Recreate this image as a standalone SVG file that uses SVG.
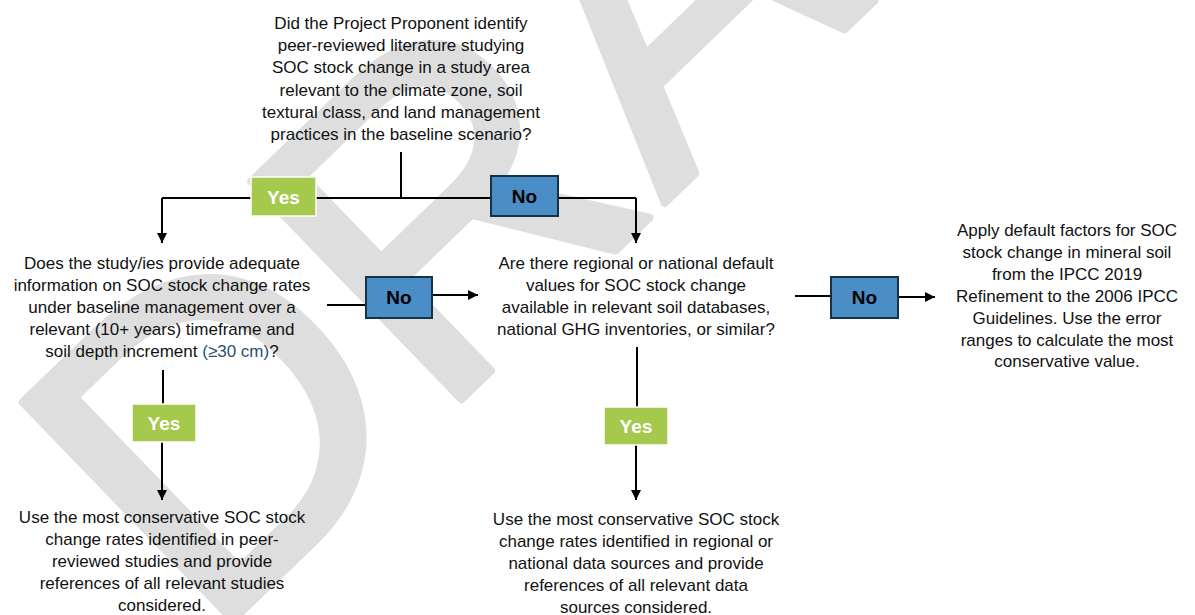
<svg xmlns="http://www.w3.org/2000/svg" width="1195" height="615" viewBox="0 0 1195 615">
<style>
.t{font-family:"Liberation Sans",Arial,sans-serif;font-size:17px;fill:#111;text-anchor:middle}
.wm{font-family:"Liberation Sans",Arial,sans-serif;font-size:440px;fill:#dedede;stroke:#dedede;stroke-width:8;stroke-linejoin:round}
.ln{stroke:#000;stroke-width:2;fill:none}
.yes rect{fill:#a5c94c;stroke:#fff;stroke-width:1.5}
.no rect{fill:#4a8dc7;stroke:#163247;stroke-width:2}
.yes text{font-family:"Liberation Sans",Arial,sans-serif;font-size:19px;font-weight:bold;fill:#fff;text-anchor:middle}
.no text{font-family:"Liberation Sans",Arial,sans-serif;font-size:19px;font-weight:bold;fill:#000;text-anchor:middle}
.blue{fill:#2b4f72}
</style>
<defs>
<marker id="ah" viewBox="0 0 10 10" refX="10" refY="5" markerWidth="10" markerHeight="10" markerUnits="userSpaceOnUse" orient="auto">
<path d="M0,0 L10,5 L0,10 z" fill="#000"/>
</marker>
</defs>
<rect width="1195" height="615" fill="#fff"/>
<text class="wm" transform="translate(207,645) rotate(-44)">DRAFT</text>

<g id="connectors">
<path class="ln" d="M401,152 V198"/>
<path class="ln" d="M162,198 H636"/>
<path class="ln" d="M162,198 V243" marker-end="url(#ah)"/>
<path class="ln" d="M636,198 V243" marker-end="url(#ah)"/>
<path class="ln" d="M327,305 H366"/>
<path class="ln" d="M432,295 H478" marker-end="url(#ah)"/>
<path class="ln" d="M795,296 H831"/>
<path class="ln" d="M898,297 H935" marker-end="url(#ah)"/>
<path class="ln" d="M163,370 V404"/>
<path class="ln" d="M162,442 V500" marker-end="url(#ah)"/>
<path class="ln" d="M637,347 V407"/>
<path class="ln" d="M636,445 V500" marker-end="url(#ah)"/>
</g>

<g id="q1">
<text class="t" x="401" y="29">Did the Project Proponent identify</text>
<text class="t" x="401" y="51">peer-reviewed literature studying</text>
<text class="t" x="401" y="73">SOC stock change in a study area</text>
<text class="t" x="401" y="95.5">relevant to the climate zone, soil</text>
<text class="t" x="401" y="117.5">textural class, and land management</text>
<text class="t" x="401" y="139.5">practices in the baseline scenario?</text>
</g>

<g id="yes1" class="yes"><rect x="251" y="177" width="65" height="39"/><text x="283.5" y="203.5">Yes</text></g>
<g id="no1" class="no"><rect x="491" y="176" width="67" height="40"/><text x="524.5" y="203">No</text></g>

<g id="q2">
<text class="t" x="162" y="269">Does the study/ies provide adequate</text>
<text class="t" x="162" y="291">information on SOC stock change rates</text>
<text class="t" x="162" y="313">under baseline management over a</text>
<text class="t" x="162" y="335">relevant (10+ years) timeframe and</text>
<text class="t" x="162" y="357">soil depth increment <tspan class="blue">(≥30 cm)</tspan>?</text>
</g>

<g id="no2" class="no"><rect x="366" y="277" width="66" height="41"/><text x="399" y="304">No</text></g>

<g id="q3">
<text class="t" x="636" y="269">Are there regional or national default</text>
<text class="t" x="636" y="291">values for SOC stock change</text>
<text class="t" x="636" y="313">available in relevant soil databases,</text>
<text class="t" x="636" y="335">national GHG inventories, or similar?</text>
</g>

<g id="no3" class="no"><rect x="831" y="277" width="67" height="41"/><text x="864.5" y="304">No</text></g>

<g id="r1">
<text class="t" x="1067" y="236">Apply default factors for SOC</text>
<text class="t" x="1067" y="258">stock change in mineral soil</text>
<text class="t" x="1067" y="280">from the IPCC 2019</text>
<text class="t" x="1067" y="302">Refinement to the 2006 IPCC</text>
<text class="t" x="1067" y="324">Guidelines. Use the error</text>
<text class="t" x="1067" y="346">ranges to calculate the most</text>
<text class="t" x="1067" y="367">conservative value.</text>
</g>

<g id="yes2" class="yes"><rect x="132" y="404" width="64" height="38"/><text x="164" y="430">Yes</text></g>
<g id="yes3" class="yes"><rect x="604" y="407" width="64" height="38"/><text x="636" y="433">Yes</text></g>

<g id="r2">
<text class="t" x="162" y="523">Use the most conservative SOC stock</text>
<text class="t" x="162" y="545">change rates identified in peer-</text>
<text class="t" x="162" y="567">reviewed studies and provide</text>
<text class="t" x="162" y="589">references  of all relevant studies</text>
<text class="t" x="162" y="611">considered.</text>
</g>

<g id="r3">
<text class="t" x="636" y="525">Use the most conservative SOC stock</text>
<text class="t" x="636" y="547">change rates identified in regional or</text>
<text class="t" x="636" y="569">national data sources and provide</text>
<text class="t" x="636" y="591">references  of all relevant data</text>
<text class="t" x="636" y="613">sources considered.</text>
</g>
</svg>
